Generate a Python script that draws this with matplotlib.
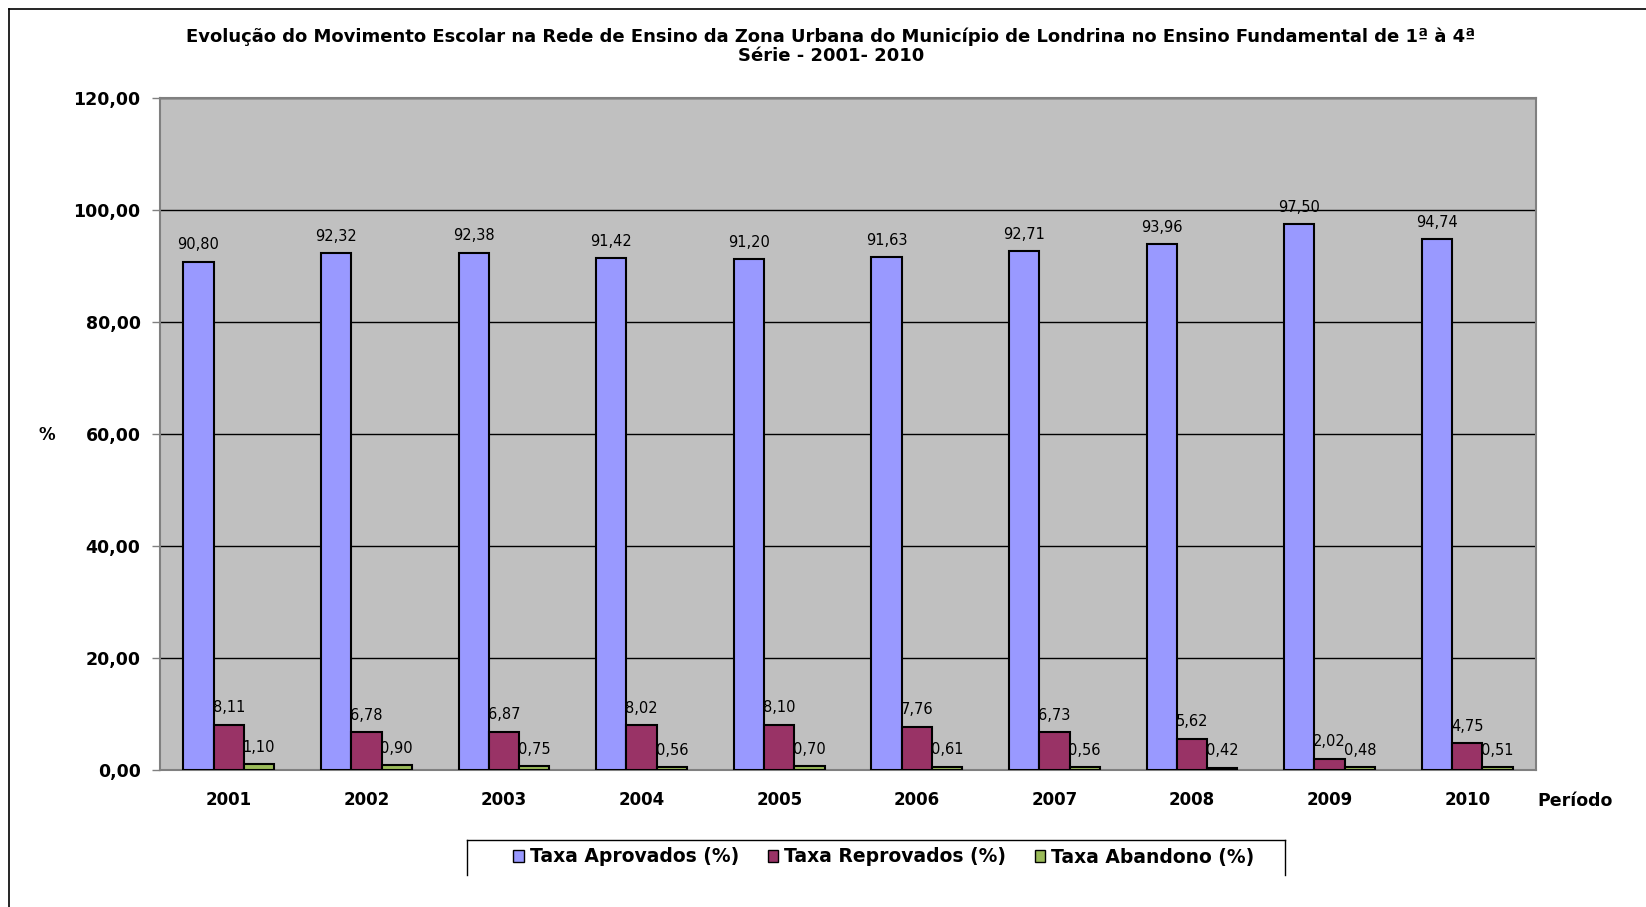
import numpy as np
import matplotlib
matplotlib.use("Agg")
import matplotlib.pyplot as plt
from matplotlib.lines import Line2D
from matplotlib.patches import Patch

# Movimento escolar, Londrina, 1a a 4a serie
anos = ["2001", "2002", "2003", "2004", "2005", "2006", "2007", "2008", "2009", "2010"]
aprovados = [90.80, 92.32, 92.38, 91.42, 91.20, 91.63, 92.71, 93.96, 97.50, 94.74]
reprovados = [8.11, 6.78, 6.87, 8.02, 8.10, 7.76, 6.73, 5.62, 2.02, 4.75]
abandono = [1.10, 0.90, 0.75, 0.56, 0.70, 0.61, 0.56, 0.42, 0.48, 0.51]
series_nomes = ["Taxa Aprovados (%)", "Taxa Reprovados (%)", "Taxa Abandono (%)"]
cores = ["#9999FF", "#993366", "#9BBB59"]

W, H = 1646, 907
fig = plt.figure(figsize=(W / 100, H / 100), dpi=100)
ax = fig.add_axes([160 / W, 1 - 770 / H, (1536 - 160) / W, (770 - 98) / H])
ax.set_facecolor("#C0C0C0")

x = np.arange(len(anos))
larg = 0.22
fmt = lambda v: f"{v:.2f}".replace(".", ",")

for i, (vals, cor) in enumerate(zip([aprovados, reprovados, abandono], cores)):
    pos = x + (i - 1) * larg
    ax.bar(pos, vals, width=larg, color=cor, edgecolor="black", linewidth=1.5, zorder=3)
    for px, v in zip(pos, vals):
        ax.text(px, v + 3, fmt(v), ha="center", va="center", fontsize=10.5,
                family="DejaVu Sans", zorder=2)

ax.set_xlim(-0.5, len(anos) - 0.5)
ax.set_ylim(0, 120)
ax.set_yticks(np.arange(0, 121, 20))
ax.set_yticklabels([fmt(t) for t in np.arange(0, 121, 20)], fontsize=12.5,
                   fontweight="bold", family="DejaVu Sans")
ax.set_xticks(x)
ax.set_xticklabels(anos, fontsize=12, fontweight="bold", family="DejaVu Sans")
ax.tick_params(axis="x", length=0, pad=15)
ax.tick_params(axis="y", length=6, width=1, color="#808080", pad=8)
ax.grid(axis="y", color="black", linewidth=1, zorder=1)
ax.set_axisbelow(True)
for s in ax.spines.values():
    s.set_color("#808080")
    s.set_linewidth(1.5)

fig.text(47 / W, 1 - 435 / H, "%", fontsize=12, fontweight="bold",
         family="DejaVu Sans", ha="center", va="center")
fig.text(1575 / W, 1 - 801 / H, "Período", fontsize=12.5, fontweight="bold",
         family="DejaVu Sans", ha="center", va="center")

titulo = ("Evolução do Movimento Escolar na Rede de Ensino da Zona Urbana do Município "
          "de Londrina no Ensino Fundamental de 1ª à 4ª\nSérie - 2001- 2010")
fig.text(831 / W, 1 - 46 / H, titulo, fontsize=13, fontweight="bold",
         family="DejaVu Sans", ha="center", va="center", linespacing=1.05)

# borda externa do grafico (so topo e esquerda visiveis)
fig.add_artist(Line2D([9 / W, 9 / W], [0, 1 - 9 / H], color="black", linewidth=1.2))
fig.add_artist(Line2D([9 / W, 1], [1 - 9 / H, 1 - 9 / H], color="black", linewidth=1.2))

# legenda
handles = [Patch(facecolor=c, edgecolor="black", linewidth=1) for c in cores]
leg = fig.legend(handles, series_nomes, loc="center", ncol=3,
                 bbox_to_anchor=(884 / W, 1 - 857 / H), frameon=False,
                 prop={"family": "DejaVu Sans", "weight": "bold", "size": 13.5},
                 handlelength=0.55, handleheight=0.55, handletextpad=0.35,
                 columnspacing=1.5)
lx0, lx1, ly0, ly1 = 467 / W, 1285 / W, 1 - 840 / H, 1 - 875 / H
fig.add_artist(Line2D([lx0, lx1], [ly0, ly0], color="black", linewidth=1))
fig.add_artist(Line2D([lx0, lx0], [ly0, ly1], color="black", linewidth=1))
fig.add_artist(Line2D([lx1, lx1], [ly0, ly1], color="black", linewidth=1))

fig.savefig("out.png", dpi=100)
